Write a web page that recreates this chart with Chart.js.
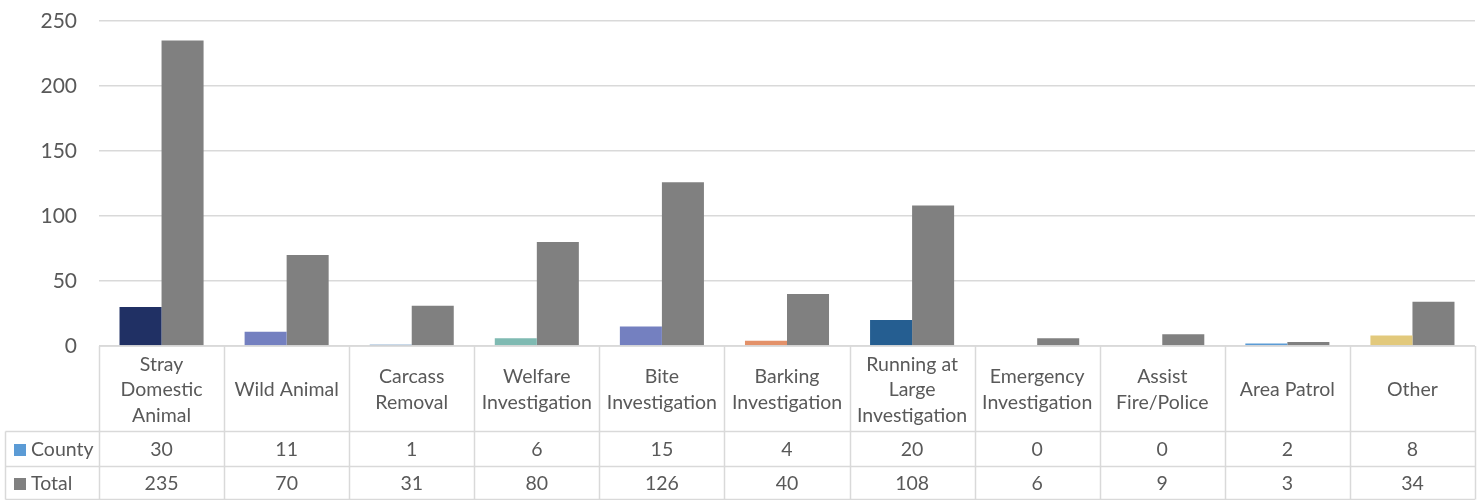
<!DOCTYPE html>
<html>
<head>
<meta charset="utf-8">
<script src="https://cdn.jsdelivr.net/npm/chart.js@4"></script>
<style>
  html, body { margin: 0; padding: 0; background: #fff; }
  #wrap { width: 1483px; height: 500px; position: relative; }
</style>
</head>
<body>
<div id="wrap"><canvas id="grafico"></canvas></div>
<script>
// Datos
var categoryLines = [
    ["Stray", "Domestic", "Animal"],
    ["Wild Animal"],
    ["Carcass", "Removal"],
    ["Welfare", "Investigation"],
    ["Bite", "Investigation"],
    ["Barking", "Investigation"],
    ["Running at", "Large", "Investigation"],
    ["Emergency", "Investigation"],
    ["Assist", "Fire/Police"],
    ["Area Patrol"],
    ["Other"]
];
var countyValues = [30, 11, 1, 6, 15, 4, 20, 0, 0, 2, 8];
var totalValues = [235, 70, 31, 80, 126, 40, 108, 6, 9, 3, 34];
var seriesNames = ["County", "Total"];
var yTicks = [0, 50, 100, 150, 200, 250];

var countyColors = ["#203064", "#7480c0", "#2a68a8", "#7fbab2", "#7480c0", "#e39169",
    "#255e91", "#5b9bd5", "#5b9bd5", "#5b9bd5", "#e2c97c"];
var legendColors = ["#5b9bd5", "#808080"];

var fuente = "Lato, 'Open Sans', sans-serif";
var textoColor = "#595959";
var lineaColor = "#d9d9d9";

// Tabla de datos dibujada bajo el area del grafico
var tablaPlugin = {
    id: "tabla",
    afterDraw: function (chart) {
        var ctx = chart.ctx;
        var area = chart.chartArea;
        var n = categoryLines.length;
        var ancho = (area.right - area.left) / n;
        var top = area.bottom;
        var filaCat = 431.5;
        var fila1 = 466.5;
        var fila2 = 499.5;
        var izq = 5.5;

        ctx.save();
        ctx.strokeStyle = lineaColor;
        ctx.lineWidth = 1.5;
        ctx.beginPath();
        // lineas horizontales
        ctx.moveTo(area.left, top); ctx.lineTo(area.right, top);
        ctx.moveTo(izq, filaCat); ctx.lineTo(area.right, filaCat);
        ctx.moveTo(izq, fila1); ctx.lineTo(area.right, fila1);
        ctx.moveTo(izq, fila2); ctx.lineTo(area.right, fila2);
        // lineas verticales
        for (var i = 0; i <= n; i++) {
            var x = Math.round(area.left + i * ancho) + 0.5;
            ctx.moveTo(x, top); ctx.lineTo(x, fila2);
        }
        ctx.moveTo(izq, filaCat); ctx.lineTo(izq, fila2);
        ctx.stroke();

        ctx.fillStyle = textoColor;
        ctx.font = "19.5px " + fuente;
        ctx.textAlign = "center";
        ctx.textBaseline = "middle";
        var centroCat = (top + filaCat) / 2 + 1;
        categoryLines.forEach(function (lineas, i) {
            var cx = chart.scales.x.getPixelForValue(i);
            var y0 = centroCat - (lineas.length - 1) * 25.5 / 2;
            lineas.forEach(function (t, j) {
                ctx.fillText(t, cx, y0 + j * 25.5);
            });
            ctx.fillText(String(countyValues[i]), cx, (filaCat + fila1) / 2 + 1);
            ctx.fillText(String(totalValues[i]), cx, (fila1 + fila2) / 2 + 1);
        });

        // leyenda dentro de la tabla
        var filas = [(filaCat + fila1) / 2 + 1, (fila1 + fila2) / 2 + 1];
        ctx.textAlign = "left";
        seriesNames.forEach(function (nombre, k) {
            ctx.fillStyle = legendColors[k];
            ctx.fillRect(14, filas[k] - 6, 12, 12);
            ctx.fillStyle = textoColor;
            ctx.fillText(nombre, 31, filas[k]);
        });
        ctx.restore();
    }
};

var ctx = document.getElementById("grafico").getContext("2d");
var myChart = new Chart(ctx, {
    type: "bar",
    data: {
        labels: categoryLines.map(function (l) { return l.join(" "); }),
        datasets: [
            {
                label: seriesNames[0],
                data: countyValues,
                backgroundColor: countyColors
            },
            {
                label: seriesNames[1],
                data: totalValues,
                backgroundColor: "#808080"
            }
        ]
    },
    options: {
        responsive: true,
        maintainAspectRatio: false,
        animation: false,
        devicePixelRatio: 1,
        categoryPercentage: 0.672,
        barPercentage: 1,
        layout: { padding: { left: 0, right: 8, top: 21, bottom: 154 } },
        plugins: {
            legend: { display: false },
            tooltip: { enabled: false }
        },
        scales: {
            x: {
                display: false
            },
            y: {
                min: 0,
                max: 250,
                afterBuildTicks: function (scale) {
                    scale.ticks = yTicks.map(function (v) { return { value: v }; });
                },
                afterFit: function (scale) {
                    scale.width = 99;
                    scale.paddingTop = 0;
                    scale.paddingBottom = 0;
                },
                grid: { color: lineaColor, lineWidth: 1.5, drawTicks: false },
                border: { display: false },
                ticks: {
                    color: textoColor,
                    padding: 22,
                    font: { family: fuente, size: 21 }
                }
            }
        }
    },
    plugins: [tablaPlugin]
});
</script>
</body>
</html>
